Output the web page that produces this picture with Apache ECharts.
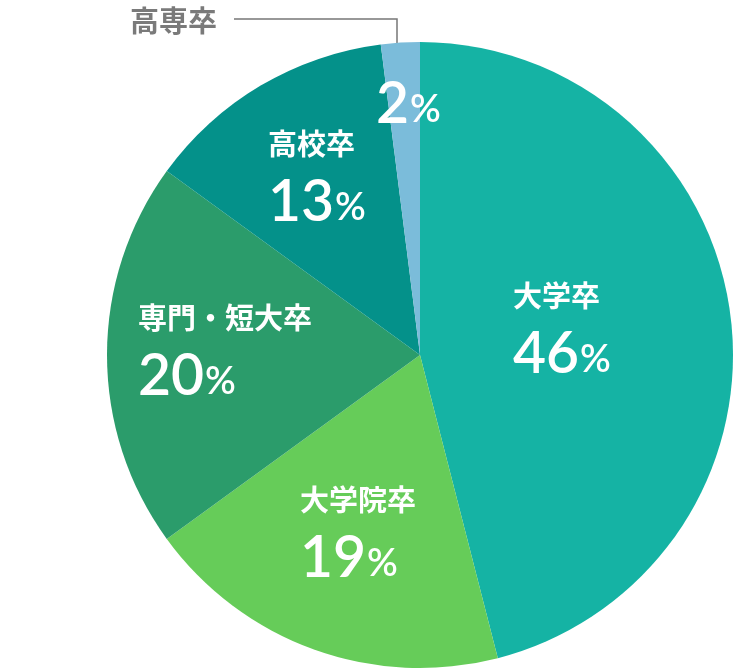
<!DOCTYPE html>
<html>
<head>
    <meta charset="utf-8">
    <title>最終学歴</title>
    <script src="https://cdn.jsdelivr.net/npm/echarts@6/dist/echarts.min.js"></script>
    <style>
        html, body { margin: 0; padding: 0; background: #fff; }
    </style>
</head>
<body>
    <div id="main" style="width: 744px;height:670px;"></div>

<script>
// 学歴の内訳（％）
const categories = ['大学卒', '大学院卒', '専門・短大卒', '高校卒', '高専卒'];
const shares = [46, 19, 20, 13, 2];
// 円の外に名前を出す項目
const outsideNames = ['高専卒'];

const colors = ['#15b3a4', '#66cc59', '#2b9c6b', '#04918a', '#7bbcda'];
const CX = 420, CY = 355, R = 313;

// ラベル位置（左端x, 中央y）
const labelAnchors = {
    '大学卒': [513, 330],
    '大学院卒': [300, 534],
    '専門・短大卒': [138, 352],
    '高校卒': [268, 178],
    '高専卒': [376, 105]
};

const numFont = 'Lato, "Noto Sans", sans-serif';
const jpFont = '"Noto Sans CJK JP", sans-serif';

function initChart() {
    const myChart = echarts.init(document.getElementById('main'));

    const innerData = categories.map((name, i) => ({
        name: name,
        value: shares[i],
        itemStyle: { color: colors[i] }
    }));

    const outerData = categories.map((name, i) => ({
        name: name,
        value: shares[i],
        label: { show: outsideNames.includes(name) },
        labelLine: { show: outsideNames.includes(name) }
    }));

    const option = {
        animation: false,
        series: [{
            type: 'pie',
            center: [CX, CY],
            radius: R,
            startAngle: 90,
            clockwise: true,
            silent: true,
            avoidLabelOverlap: false,
            itemStyle: { borderWidth: 0 },
            label: {
                position: 'inside',
                formatter: (p) => outsideNames.includes(p.name)
                    ? `{v|${p.value}}{p|%}`
                    : `{n|${p.name}}\n{v|${p.value}}{p|%}`,
                rich: {
                    n: {
                        color: '#fff',
                        fontFamily: jpFont,
                        fontWeight: 'bold',
                        fontSize: 29,
                        lineHeight: 50,
                        align: 'left'
                    },
                    v: {
                        color: '#fff',
                        fontFamily: numFont,
                        fontWeight: 600,
                        fontSize: 57,
                        lineHeight: 68,
                        align: 'left'
                    },
                    p: {
                        color: '#fff',
                        fontFamily: numFont,
                        fontWeight: 600,
                        fontSize: 38,
                        lineHeight: 68,
                        padding: [10, 0, 0, 1],
                        align: 'left'
                    }
                }
            },
            labelLine: { show: false },
            labelLayout: (params) => {
                const a = labelAnchors[categories[params.dataIndex]];
                return { x: a[0], y: a[1], align: 'left', verticalAlign: 'middle' };
            },
            data: innerData
        }, {
            // 外側の名前ラベル用（透明）
            type: 'pie',
            center: [CX, CY],
            radius: R,
            startAngle: 90,
            clockwise: true,
            silent: true,
            avoidLabelOverlap: false,
            itemStyle: { color: 'rgba(0,0,0,0)' },
            label: {
                position: 'outside',
                formatter: '{b}',
                color: '#7a7a7a',
                fontFamily: jpFont,
                fontWeight: 'bold',
                fontSize: 29
            },
            labelLine: {
                length: 20,
                length2: 100,
                lineStyle: { color: '#777', width: 1.5 }
            },
            labelLayout: () => {
                return {
                    x: 130, y: 21, align: 'left', verticalAlign: 'middle',
                    labelLinePoints: [[397, 71], [397, 19], [234, 19]]
                };
            },
            data: outerData
        }]
    };
    myChart.setOption(option);
}

window.onload = () => {
    initChart();
};
</script>
</body>
</html>
